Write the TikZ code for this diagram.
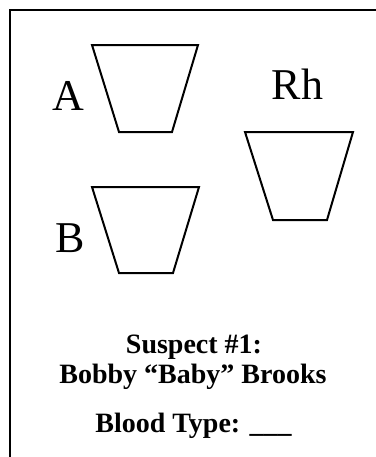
\documentclass[tikz,border=0pt]{standalone}
\usepackage{fontspec}
\setmainfont{Liberation Serif}
\begin{document}
\begin{tikzpicture}[x=0.5pt,y=-0.5pt]
		\tikzstyle{every node}+=[inner sep=0pt]
		\tikzstyle{cup}=[black,line width=1pt,line join=miter]
		\useasboundingbox (0,0) rectangle (376,457);
		\draw [black,line width=1.2pt] (376,10) -- (10,10) -- (10,457);
		\draw [cup] (92,45) -- (119,132) -- (172,132) -- (198,45) -- cycle;
		\draw [cup] (92,187) -- (119,273) -- (173,273) -- (199,187) -- cycle;
		\draw [cup] (245,132) -- (273,220) -- (327,220) -- (353,132) -- cycle;
		\node [anchor=base,font=\fontsize{22}{26}\selectfont] (labA) at (68.5,110) {A};
		\node [anchor=base,font=\fontsize{22}{26}\selectfont] (labB) at (70,252) {B};
		\node [anchor=base,font=\fontsize{22}{26}\selectfont] (labRh) at (297.5,99) {Rh};
		\node [anchor=base,font=\fontsize{14}{16}\selectfont\bfseries] (suspect) at (194,353) {Suspect \#1:};
		\node [anchor=base,font=\fontsize{14}{16}\selectfont\bfseries] (name) at (193,383) {Bobby “Baby” Brooks};
		\node [anchor=base,font=\fontsize{14}{16}\selectfont\bfseries] (blood) at (193.5,432) {Blood Type: \_\_\_};
	\end{tikzpicture}
\end{document}
